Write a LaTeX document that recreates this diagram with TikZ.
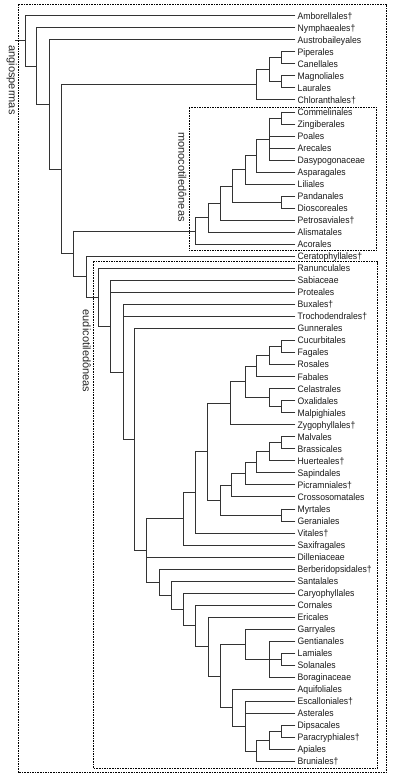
\documentclass[tikz,border=0pt]{standalone}
\usepackage{fontspec}
\setmainfont{Liberation Sans}
\newfontfamily\leaffont{Liberation Sans}[FakeStretch=0.92]
\usetikzlibrary{calc}
\newcommand\mkclade[5]{%
  \path let \p1=($(#3)!0.5!(#4)$) in coordinate (#1) at (#2pt,\y1);
  \draw[br] (#1 |- #3) -- (#1 |- #4);
  \foreach \c in {#5} {\draw[br] (#1 |- \c) -- (\c);}
}
\begin{document}
\begin{tikzpicture}[x=1pt,y=-1pt,
  br/.style={draw=black!80,line width=0.85pt,line cap=rect},
  leaf/.style={anchor=base west,inner sep=0pt,font=\leaffont\fontsize{9.4}{10}\selectfont,text=black!90},
  grp/.style={draw=black,line width=0.7pt,dash pattern=on 1.6pt off 1pt},
  lbl/.style={rotate=-90,font=\fontsize{11}{12}\selectfont,inner sep=0pt,text=black!85}]
\useasboundingbox (0,0) rectangle (392,779);
\foreach \n [count=\i] in {Amborellales†,Nymphaeales†,Austrobaileyales,Piperales,Canellales,Magnoliales,Laurales,Chloranthales†,Commelinales,Zingiberales,Poales,Arecales,Dasypogonaceae,Asparagales,Liliales,Pandanales,Dioscoreales,Petrosaviales†,Alismatales,Acorales,Ceratophyllales†,Ranunculales,Sabiaceae,Proteales,Buxales†,Trochodendrales†,Gunnerales,Cucurbitales,Fagales,Rosales,Fabales,Celastrales,Oxalidales,Malpighiales,Zygophyllales†,Malvales,Brassicales,Huerteales†,Sapindales,Picramniales†,Crossosomatales,Myrtales,Geraniales,Vitales†,Saxifragales,Dilleniaceae,Berberidopsidales†,Santalales,Caryophyllales,Cornales,Ericales,Garryales,Gentianales,Lamiales,Solanales,Boraginaceae,Aquifoliales,Escalloniales†,Asterales,Dipsacales,Paracryphiales†,Apiales,Bruniales†}{
  \coordinate (a\i) at (295,{15.7+(\i-1)*12.03});
  \node[leaf] (t\i) at ([xshift=2.5pt,yshift=-3.4pt]a\i) {\n};
}
% magnoliids
\mkclade{nPC}{281.7}{a4}{a5}{a4,a5}
\mkclade{nML}{281.7}{a6}{a7}{a6,a7}
\mkclade{nMag2}{269.3}{nPC}{nML}{nPC,nML}
\mkclade{nMag}{256.7}{nMag2}{a8}{nMag2,a8}
% monocots
\mkclade{nCZ}{281.7}{a9}{a10}{a9,a10}
\mkclade{nM7}{269.3}{nCZ}{a13}{nCZ,a11,a12,a13}
\mkclade{nM6}{256.7}{nM7}{a14}{nM7,a14}
\mkclade{nM5}{245}{nM6}{a15}{nM6,a15}
\mkclade{nPD}{281.7}{a16}{a17}{a16,a17}
\mkclade{nM4}{232.3}{nM5}{nPD}{nM5,nPD}
\mkclade{nM3}{220}{nM4}{a18}{nM4,a18}
\mkclade{nM2}{208.3}{nM3}{a19}{nM3,a19}
\mkclade{nMono}{195.7}{nM2}{a20}{nM2,a20}
% fabids
\mkclade{nCF}{281.7}{a28}{a29}{a28,a29}
\mkclade{nF4}{269.3}{nCF}{a30}{nCF,a30}
\mkclade{nF3}{256.7}{nF4}{a31}{nF4,a31}
\mkclade{nOM}{281.7}{a33}{a34}{a33,a34}
\mkclade{nCOM}{269.3}{a32}{nOM}{a32,nOM}
\mkclade{nF2}{245}{nF3}{nCOM}{nF3,nCOM}
\mkclade{nFab}{230}{nF2}{a35}{nF2,a35}
% malvids
\mkclade{nMB}{281.7}{a36}{a37}{a36,a37}
\mkclade{nMa5}{269.3}{nMB}{a38}{nMB,a38}
\mkclade{nMa4}{256.7}{nMa5}{a39}{nMa5,a39}
\mkclade{nMa3}{245}{nMa4}{a40}{nMa4,a40}
\mkclade{nMa2}{231.7}{nMa3}{a41}{nMa3,a41}
\mkclade{nMG}{281.7}{a42}{a43}{a42,a43}
\mkclade{nMal}{220}{nMa2}{nMG}{nMa2,nMG}
\mkclade{nR2}{207.7}{nFab}{nMal}{nFab,nMal}
\mkclade{nRos}{195}{nR2}{a44}{nR2,a44}
\mkclade{nSR}{183.3}{nRos}{a45}{nRos,a45}
% superasterids
\mkclade{nLS}{281.7}{a54}{a55}{a54,a55}
\mkclade{nL2}{269.3}{a53}{a56}{a53,nLS,a56}
\mkclade{nLam}{245}{a52}{nL2}{a52,nL2}
\mkclade{nDP}{281.7}{a60}{a61}{a60,a61}
\mkclade{nC4}{269.3}{nDP}{a62}{nDP,a62}
\mkclade{nC3}{256.7}{nC4}{a63}{nC4,a63}
\mkclade{nC2}{245}{a58}{nC3}{a58,a59,nC3}
\mkclade{nCam}{232.3}{a57}{nC2}{a57,nC2}
\mkclade{nA6}{220}{nLam}{nCam}{nLam,nCam}
\mkclade{nA5}{208.3}{a51}{nA6}{a51,nA6}
\mkclade{nA4}{195.7}{a50}{nA5}{a50,nA5}
\mkclade{nA3}{183.3}{a49}{nA4}{a49,nA4}
\mkclade{nA2}{171.7}{a48}{nA3}{a48,nA3}
\mkclade{nSA}{159.3}{a47}{nA2}{a47,nA2}
% eudicot backbone
\mkclade{nJ}{146.7}{nSR}{nSA}{nSR,a46,nSA}
\mkclade{nI}{134.3}{a27}{nJ}{a27,nJ}
\mkclade{nH}{123.3}{a25}{nI}{a25,a26,nI}
\mkclade{nG}{110}{a23}{nH}{a23,a24,nH}
\mkclade{nEu}{98.3}{a22}{nG}{a22,nG}
\mkclade{nF}{86}{a21}{nEu}{a21,nEu}
\mkclade{nE}{73.3}{nMono}{nF}{nMono,nF}
\mkclade{nD}{61}{nMag}{nE}{nMag,nE}
\mkclade{nC}{49.3}{a3}{nD}{a3,nD}
\mkclade{nB}{36.7}{a2}{nC}{a2,nC}
\mkclade{r}{25}{a1}{nB}{a1,nB}
\path (r) ++(-10,0) coordinate (rs);
\draw[br] (rs) -- (r);
% group boxes
\draw[grp] (18.3,4) rectangle (386.7,772.7);
\draw[grp] (189,107.3) rectangle (376.7,250.5);
\draw[grp] (93.3,261.7) rectangle (377.7,768.3);
\node[lbl] (angio) at (11.7,80) {angiospermas};
\node[lbl] (mono) at (182.3,177) {monocotiledôneas};
\node[lbl] (eudi) at (86.7,351) {eudicotiledôneas};
\end{tikzpicture}
\end{document}
